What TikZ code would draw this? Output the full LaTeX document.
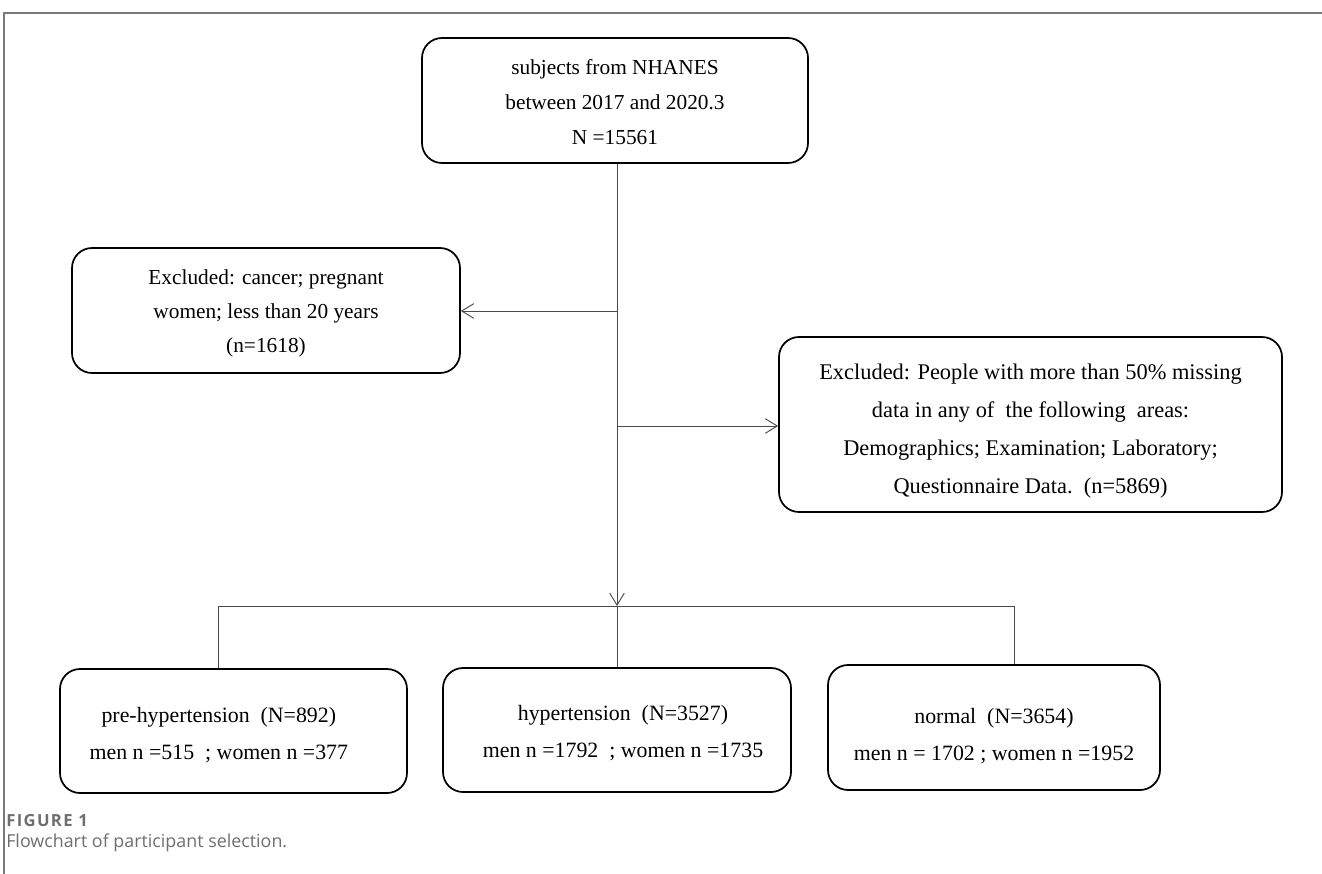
\documentclass[tikz,border=0pt]{standalone}
\usepackage{fontspec}
\setmainfont{Liberation Serif}
\newfontfamily\capfont{Open Sans}
\usetikzlibrary{arrows.meta}
\definecolor{frameGray}{HTML}{7A7A7A}
\definecolor{lineGray}{HTML}{4A4A4A}
\definecolor{capGray}{HTML}{6D6E71}

\newcommand{\topstrut}[1]{\rule{0pt}{#1}}

\tikzset{
  flowbox/.style={draw=black, line width=1.3pt, rounded corners=15pt, align=center, inner sep=0pt},
  link/.style={draw=lineGray, line width=0.7pt},
  linkarrow/.style={link, -{Straight Barb[length=9pt,width=11pt,line width=0.7pt]}}
}

\begin{document}
\begin{tikzpicture}[x=0.75pt,y=-0.75pt]
    \useasboundingbox (0,0) rectangle (1322,874);
    % page frame
    \draw[frameGray, line width=1pt] (4,874) -- (4,13) -- (1322,13);
    % source population
    \node[flowbox, minimum width=289.5pt, minimum height=93.75pt, font=\fontsize{16}{26.25}\selectfont] (src) at (615,100.5)
        {\topstrut{13pt}subjects from NHANES\\between 2017 and 2020.3\\N =15561};
    % exclusions
    \node[flowbox, minimum width=291pt, minimum height=93.75pt, font=\fontsize{16}{25.5}\selectfont] (exA) at (266,310.5)
        {\topstrut{16pt}Excluded: cancer; pregnant\\women; less than 20 years\\(n=1618)};
    \node[flowbox, minimum width=377.25pt, minimum height=131.25pt, font=\fontsize{16.8}{28.5}\selectfont] (exB) at (1030.5,424.5)
        {\topstrut{22pt}Excluded: People with more than 50\% missing\\data in any of\ \ the following\ \ areas:\\Demographics; Examination; Laboratory;\\Questionnaire Data.\ \ (n=5869)};
    % groups
    \node[flowbox, minimum width=260.25pt, minimum height=93pt, font=\fontsize{16.4}{27.75}\selectfont] (pre) at (233.5,731)
        {\topstrut{18pt}pre-hypertension\ \ (N=892)\hspace*{22pt}\\men n =515\ \ ; women n =377\hspace*{22pt}};
    \node[flowbox, minimum width=261pt, minimum height=93pt, font=\fontsize{16.4}{27.75}\selectfont] (hyp) at (617,730)
        {\topstrut{16pt}\hspace*{9pt}hypertension\ \ (N=3527)\\\hspace*{9pt}men n =1792\ \ ; women n =1735};
    \node[flowbox, minimum width=249pt, minimum height=93.75pt, font=\fontsize{16.4}{27.75}\selectfont] (nrm) at (994,727.5)
        {\topstrut{24pt}normal\ \ (N=3654)\\men n = 1702 ; women n =1952};
    % trunk and branches
    \coordinate (split) at (617,606);
    \coordinate (jA) at (617,311);
    \coordinate (jB) at (617,426);
    \coordinate (bl) at (218,606);
    \coordinate (br) at (1014,606);
    \draw[linkarrow] (src.south -| split) -- (split);
    \draw[linkarrow] (jA) -- (jA -| exA.east);
    \draw[linkarrow] (jB) -- (jB -| exB.west);
    \draw[link] (bl) -- (br);
    \draw[link] (bl) -- (bl |- pre.north);
    \draw[link] (split) -- (hyp.north);
    \draw[link] (br) -- (br |- nrm.north);
    % caption
    \node[anchor=west, inner sep=0pt, text=capGray, font=\capfont\bfseries\fontsize{12.5}{14}\selectfont\addfontfeature{LetterSpace=8}] (figno) at (6,821) {FIGURE 1};
    \node[anchor=west, inner sep=0pt, text=capGray, font=\capfont\fontsize{13.4}{16}\selectfont] (figcap) at (6,843) {Flowchart of participant selection.};
\end{tikzpicture}
\end{document}
